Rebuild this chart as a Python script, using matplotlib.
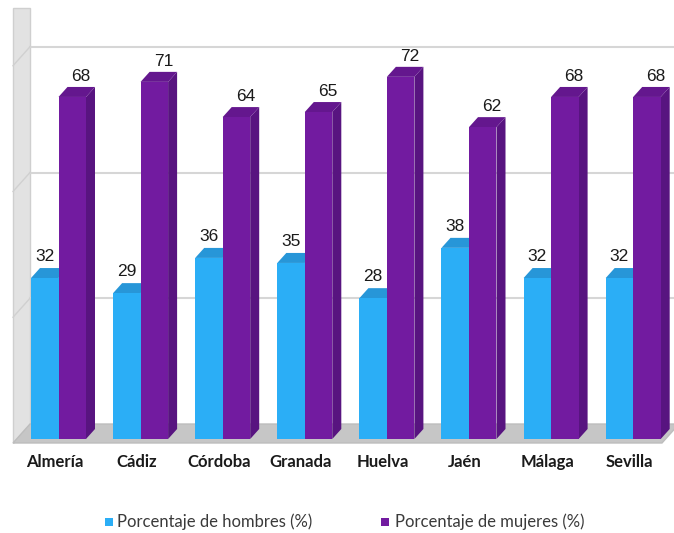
import matplotlib
matplotlib.use("Agg")
import matplotlib.pyplot as plt
from matplotlib.patches import Polygon, Rectangle

categories = ["Almería", "Cádiz", "Córdoba", "Granada", "Huelva", "Jaén", "Málaga", "Sevilla"]
hombres = [32, 29, 36, 35, 28, 38, 32, 32]
mujeres = [68, 71, 64, 65, 72, 62, 68, 68]
series_names = ["Porcentaje de hombres (%)", "Porcentaje de mujeres (%)"]
gridlines = [25, 50, 75]

W, H = 674, 533
fig = plt.figure(figsize=(W / 100, H / 100), dpi=100)
ax = fig.add_axes([0, 0, 1, 1])
ax.axis("off")

# pixel -> data mapping
X0, XS = 58.5, 82.1      # category 0 centre in px, px per category
Y0, YS = 439.0, 5.03     # value 0 in px (from top), px per unit
px = lambda p: (p - X0) / XS
py = lambda p: (Y0 - p) / YS
ax.set_xlim(px(0), px(W))
ax.set_ylim(py(H), py(0))

# 3D offsets
BW = 27.5 / XS
DXB, DYB = 9 / XS, 10 / YS
DXF, DYF = 17 / XS, 19 / YS

c_blue, c_blue_top, c_blue_side = "#2BAEF6", "#2796D8", "#2286C2"
c_pur, c_pur_top, c_pur_side = "#721BA0", "#64178E", "#581480"

# wall and floor
xf, yf = px(13), py(443)
wall = Polygon([(xf, yf), (xf, py(8)), (xf + DXF, py(8)), (xf + DXF, yf + DYF)],
               closed=True, facecolor="#E2E2E2", edgecolor="#CFCFCF", lw=1, zorder=1)
ax.add_patch(wall)
floor = Polygon([(xf, yf), (xf + DXF, yf + DYF), (px(662) + DXF, yf + DYF), (px(662), yf)],
                closed=True, facecolor="#C6C6C6", edgecolor="#BDBDBD", lw=1, zorder=1)
ax.add_patch(floor)
for g in gridlines:
    yb = g + yf + DYF
    ax.plot([xf + DXF, px(W + 5)], [yb, yb], color="#D6D6D6", lw=1.5, zorder=1)
    ax.plot([xf, xf + DXF], [yb - DYF, yb], color="#D0D0D0", lw=1, zorder=1)

def bar3d(x0, v, front, top, side):
    # side face
    ax.add_patch(Polygon([(x0 + BW, 0), (x0 + BW + DXB, DYB), (x0 + BW + DXB, v + DYB), (x0 + BW, v)],
                         closed=True, facecolor=side, edgecolor="none", zorder=3))
    # top cap
    ax.add_patch(Polygon([(x0, v), (x0 + DXB, v + DYB), (x0 + BW + DXB, v + DYB), (x0 + BW, v)],
                         closed=True, facecolor=top, edgecolor="none", zorder=3))
    ax.bar([x0], [v], width=BW, align="edge", color=front, zorder=3, linewidth=0)

for i, (h, m) in enumerate(zip(hombres, mujeres)):
    bar3d(i - BW, h, c_blue, c_blue_top, c_blue_side)
    bar3d(i, m, c_pur, c_pur_top, c_pur_side)
    ax.text(i - BW / 2, h + DYB + 7 / YS, str(h), ha="center", va="baseline",
            fontsize=12.5, family="Liberation Sans", color="#1a1a1a", zorder=5)
    ax.text(i + BW / 2 + 9 / XS, m + DYB + 6 / YS, str(m), ha="center", va="baseline",
            fontsize=12.5, family="Liberation Sans", color="#1a1a1a", zorder=5)
    ax.text(i - 4 / XS, py(462), categories[i], ha="center", va="center",
            fontsize=12, family="Lato", fontweight="bold", color="#1a1a1a", zorder=5)

# legend
for sx, tx, col, name in [(105, 117, c_blue, series_names[0]), (381, 395, c_pur, series_names[1])]:
    ax.add_patch(Rectangle((px(sx), py(526)), 8 / XS, 8 / YS, facecolor=col, edgecolor="none"))
    ax.text(px(tx), py(522), name, ha="left", va="center", fontsize=12,
            family="Lato", color="#3a3a3a")

fig.savefig("out.png", dpi=100)
